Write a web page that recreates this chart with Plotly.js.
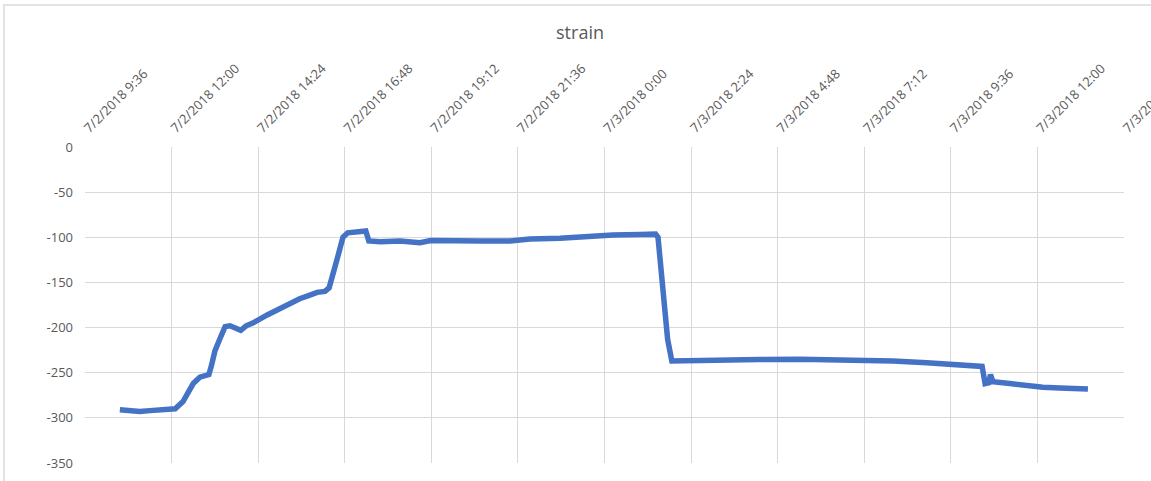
<!DOCTYPE html>
<html>
<head>
<meta charset="utf-8">
<script src="https://cdn.plot.ly/plotly-3.0.1.min.js"></script>
<style>
  html, body { margin: 0; padding: 0; background: #ffffff; }
  #wrap { position: relative; width: 1151px; height: 481px; overflow: hidden; }
  #chart { position: absolute; left: 0; top: 0; width: 1151px; height: 481px; }
  #frame { position: absolute; left: 3px; top: 4px; width: 1200px; height: 520px;
           border: 2px solid #e3e3e3; box-sizing: border-box; pointer-events: none; }
</style>
</head>
<body>
<div id="wrap">
  <div id="chart"></div>
  <div id="frame"></div>
</div>
<script>
// Sample times
const times = [
  '2018-07-02 10:34','2018-07-02 10:51','2018-07-02 11:07','2018-07-02 11:24','2018-07-02 11:41',
  '2018-07-02 11:54','2018-07-02 12:06','2018-07-02 12:19','2018-07-02 12:36','2018-07-02 12:47',
  '2018-07-02 12:54','2018-07-02 13:02','2018-07-02 13:06','2018-07-02 13:12','2018-07-02 13:20','2018-07-02 13:29',
  '2018-07-02 13:37','2018-07-02 13:47','2018-07-02 13:55','2018-07-02 14:04','2018-07-02 14:15',
  '2018-07-02 14:39','2018-07-02 15:05','2018-07-02 15:33','2018-07-02 15:50','2018-07-02 16:02',
  '2018-07-02 16:15','2018-07-02 16:22','2018-07-02 16:35','2018-07-02 16:45','2018-07-02 16:53',
  '2018-07-02 17:08','2018-07-02 17:23','2018-07-02 17:28','2018-07-02 17:47','2018-07-02 18:20',
  '2018-07-02 18:41','2018-07-02 18:53','2018-07-02 19:11','2018-07-02 19:43','2018-07-02 20:33',
  '2018-07-02 21:23','2018-07-02 21:56','2018-07-02 22:46','2018-07-02 23:31','2018-07-02 23:41',
  '2018-07-03 00:14','2018-07-03 00:59','2018-07-03 01:25','2018-07-03 01:29','2018-07-03 01:37',
  '2018-07-03 01:45','2018-07-03 01:52','2018-07-03 02:22','2018-07-03 03:12','2018-07-03 04:18',
  '2018-07-03 05:25','2018-07-03 07:05','2018-07-03 08:00','2018-07-03 08:56','2018-07-03 09:51',
  '2018-07-03 10:28','2018-07-03 10:33','2018-07-03 10:39','2018-07-03 10:42','2018-07-03 10:46',
  '2018-07-03 11:14','2018-07-03 11:42','2018-07-03 12:09','2018-07-03 12:37','2018-07-03 13:02',
  '2018-07-03 13:24'
];
// Strain values
const strain = [
  -291,-292,-293,-292,-291,
  -291,-290,-282,-262,-255,
  -253,-252,-243,-226,-213,-199,
  -198,-200,-203,-198,-195,
  -186,-177,-168,-164,-161,
  -160,-156,-125,-100,-95,
  -93.5,-93,-104,-105,-104,
  -105,-106,-103.5,-104,-104,
  -104,-102,-101,-98.5,-98,
  -97.5,-97,-96.5,-100,-158,
  -213,-237,-237,-236,-235.5,
  -235,-235.5,-237,-239,-241,
  -243,-262,-261,-252,-260,
  -262,-264.5,-266,-267,-268,
  -268
];
// X tick positions and labels
const xTickVals = [
  '2018-07-02 09:36','2018-07-02 12:00','2018-07-02 14:24','2018-07-02 16:48',
  '2018-07-02 19:12','2018-07-02 21:36','2018-07-03 00:00','2018-07-03 02:24',
  '2018-07-03 04:48','2018-07-03 07:12','2018-07-03 09:36','2018-07-03 12:00',
  '2018-07-03 14:24'
];
const xTickText = [
  '7/2/2018 9:36','7/2/2018 12:00','7/2/2018 14:24','7/2/2018 16:48',
  '7/2/2018 19:12','7/2/2018 21:36','7/3/2018 0:00','7/3/2018 2:24',
  '7/3/2018 4:48','7/3/2018 7:12','7/3/2018 9:36','7/3/2018 12:00',
  '7/3/2018 14:24'
];
// Y ticks
const yTickVals = [0, -50, -100, -150, -200, -250, -300, -350];
const yTickText = ['0', '-50', '-100', '-150', '-200', '-250', '-300', '-350'];

const trace = {
  x: times, y: strain, type: 'scatter', mode: 'lines',
  line: { color: '#4472C4', width: 5.5 },
  hoverinfo: 'x+y'
};

const layout = {
  width: 1151, height: 481,
  margin: { l: 85, r: 27, t: 147, b: 18, pad: 0 },
  paper_bgcolor: '#ffffff', plot_bgcolor: '#ffffff',
  showlegend: false,
  font: { family: 'Open Sans, sans-serif', color: '#595959', size: 13 },
  title: {
    text: 'strain', font: { size: 18, color: '#595959', family: 'Open Sans, sans-serif' },
    x: 580 / 1151, xref: 'container', xanchor: 'center',
    y: 1 - 33 / 481, yref: 'container', yanchor: 'middle'
  },
  xaxis: {
    type: 'date', side: 'top',
    range: [xTickVals[0], xTickVals[xTickVals.length - 1]],
    tickmode: 'array', tickvals: xTickVals, ticktext: xTickText,
    tickangle: -45, ticks: '', ticklabelstandoff: 8,
    ticklabeloverflow: 'allow',
    showgrid: true, gridcolor: '#d9d9d9', gridwidth: 1,
    showline: false, zeroline: false,
    tickfont: { size: 13, color: '#595959' }
  },
  yaxis: {
    range: [-350, 0],
    tickmode: 'array', tickvals: yTickVals, ticktext: yTickText,
    ticks: '', ticklabelstandoff: 11,
    showgrid: true, gridcolor: '#d9d9d9', gridwidth: 1,
    showline: false, zeroline: false,
    tickfont: { size: 13, color: '#595959' }
  }
};

Plotly.newPlot('chart', [trace], layout, { displayModeBar: false, staticPlot: true });
</script>
</body>
</html>
